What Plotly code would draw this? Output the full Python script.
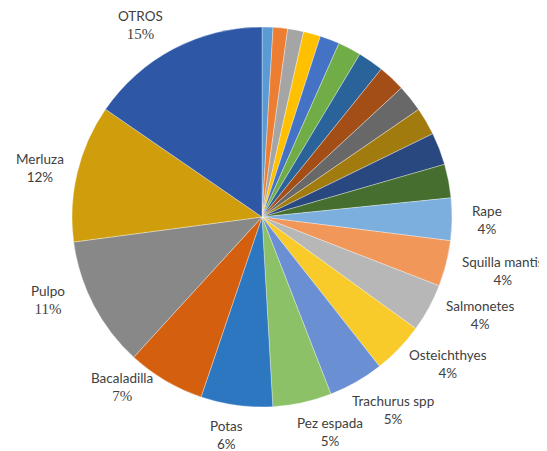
import plotly.graph_objects as go

# ---- data (percent of total), clockwise from 12 o'clock ----
labels = ["Especie 1", "Especie 2", "Especie 3", "Especie 4", "Especie 5", "Especie 6",
          "Especie 7", "Especie 8", "Especie 9", "Especie 10", "Especie 11", "Especie 12",
          "Rape", "Squilla mantis", "Salmonetes", "Osteichthyes", "Trachurus spp",
          "Pez espada", "Potas", "Bacaladilla", "Pulpo", "Merluza", "OTROS"]
values = [0.93, 1.23, 1.36, 1.45, 1.67, 1.97, 2.19, 2.31, 2.31, 2.36, 2.75, 2.86,
          3.6, 3.9, 4.1, 4.4, 4.7, 5.0, 6.1, 6.6, 11.1, 11.7, 15.4]
serif_pct = ["Pulpo", "Bacaladilla", "OTROS"]

colors = ["#5B9BD5", "#ED7D31", "#A5A5A5", "#FFC000", "#4472C4", "#70AD47",
          "#2A6399", "#A44E17", "#686868", "#A27B0E", "#2A4880", "#466E2F",
          "#7CAFDD", "#F1975A", "#B7B7B7", "#F8CB2A", "#6A8FD3", "#8CC168",
          "#2C77C0", "#D45F0E", "#888888", "#D09E0C", "#2E58A6"]

# ---- layout (page pixels) ----
OFF = 8  # page body margin
W, H = 547, 451
cx, cy, R = 262 - OFF, 217 - OFF, 190
# label centres (page pixels), Excel "best fit" placement
label_pos = {"Rape": (487, 220), "Squilla mantis": (503, 271), "Salmonetes": (480, 315),
             "Osteichthyes": (448, 364), "Trachurus spp": (393, 410),
             "Pez espada": (330, 432), "Potas": (226, 435), "Bacaladilla": (122, 387),
             "Pulpo": (48, 300), "Merluza": (40, 168), "OTROS": (140, 25)}

fig = go.Figure(go.Pie(
    labels=labels, values=values, sort=False, direction="clockwise", rotation=0,
    marker=dict(colors=colors, line=dict(color="rgba(255,255,255,0.55)", width=0.6)),
    textinfo="none", hoverinfo="label+percent",
    domain=dict(x=[(cx - R) / W, (cx + R) / W], y=[(H - cy - R) / H, (H - cy + R) / H]),
    showlegend=False,
))

total = sum(values)
for lab, v in zip(labels, values):
    if lab not in label_pos:
        continue
    px, py = label_pos[lab]
    px -= OFF
    py -= OFF
    pct = f"{round(v / total * 100)}%"
    if lab in serif_pct:
        pct = f"<span style='font-family:Liberation Serif;font-size:15px'>{pct}</span>"
    fig.add_annotation(x=px / W, y=1 - py / H, xref="paper", yref="paper",
                       text=f"{lab}<br>{pct}", showarrow=False,
                       font=dict(family="Lato, Carlito, sans-serif", size=13.5, color="#404040"),
                       align="center", xanchor="center", yanchor="middle")

fig.update_layout(width=W, height=H, margin=dict(l=0, r=0, t=0, b=0),
                  paper_bgcolor="white", plot_bgcolor="white")
fig.write_html("out.html")
